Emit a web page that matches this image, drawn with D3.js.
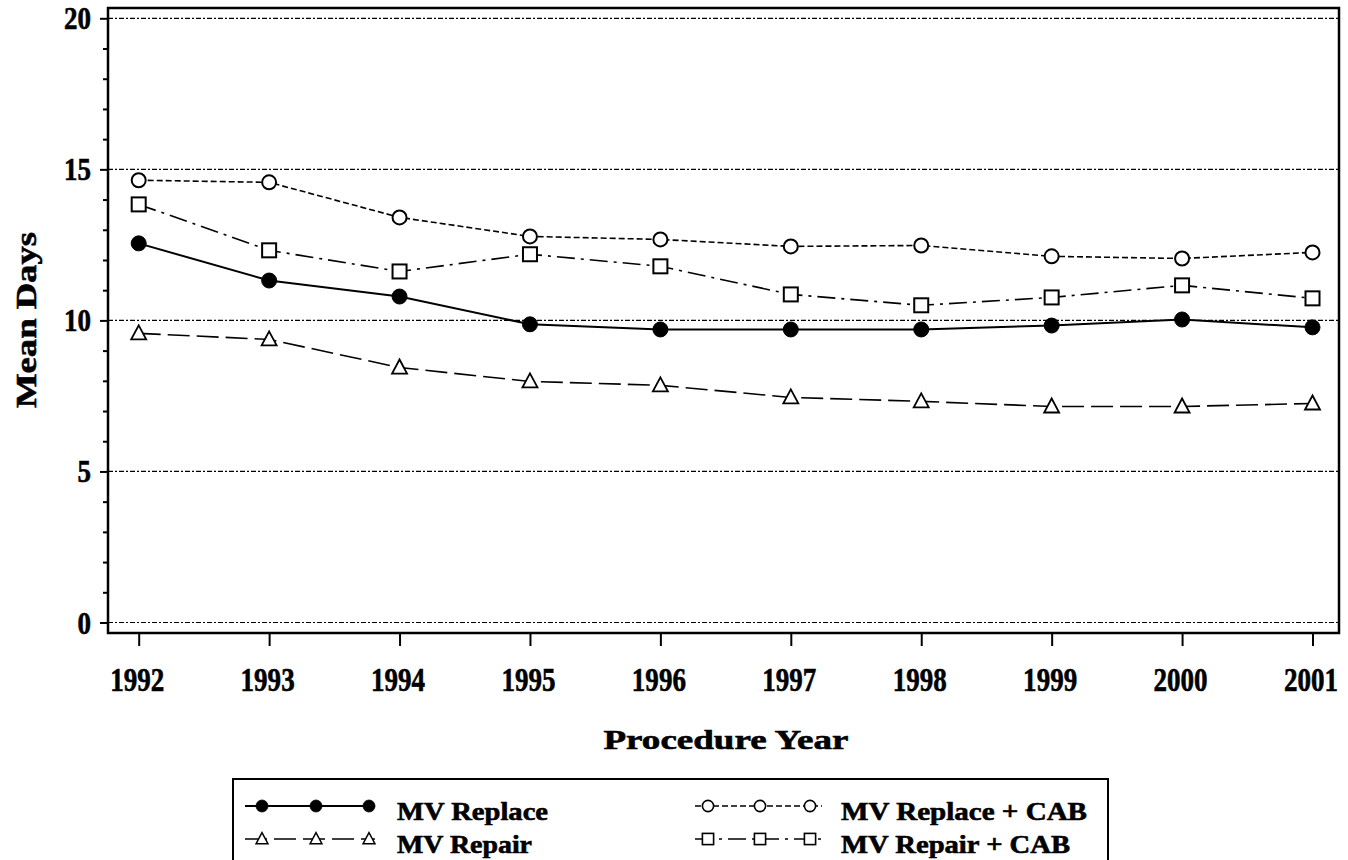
<!DOCTYPE html>
<html>
<head>
<meta charset="utf-8">
<script src="https://cdn.jsdelivr.net/npm/d3@7"></script>
<style>
body { margin: 0; background: #fff; }
text { font-family: "Liberation Serif", "DejaVu Serif", serif; font-weight: bold; fill: #000; stroke: #000; stroke-width: 0.6; }
</style>
</head>
<body>
<script>
var years = [1992, 1993, 1994, 1995, 1996, 1997, 1998, 1999, 2000, 2001];
var mvReplace    = [12.55, 11.32, 10.79, 9.87, 9.70, 9.70, 9.70, 9.83, 10.03, 9.77];
var mvRepair     = [9.57, 9.37, 8.44, 7.98, 7.85, 7.45, 7.32, 7.15, 7.15, 7.25];
var mvReplaceCab = [14.64, 14.57, 13.41, 12.78, 12.68, 12.45, 12.48, 12.12, 12.05, 12.25];
var mvRepairCab  = [13.84, 12.32, 11.62, 12.19, 11.79, 10.86, 10.50, 10.76, 11.16, 10.73];
var yTicks = [0, 5, 10, 15, 20];

function main(){
	var w = 1348, h = 860;
	var svg = d3.select("body").append("svg")
				.attr("width", w)
				.attr("height", h);

	var frame = {left: 108, right: 1339, top: 8, bottom: 633};
	var x = d3.scaleLinear().domain([1992, 2001]).range([138.7, 1312.5]);
	var y = d3.scaleLinear().domain([0, 20]).range([622.5, 18.3]);

	// reference lines
	svg.selectAll("line.grid")
		.data(yTicks)
		.enter()
		.append("line")
		.attr("class", "grid")
		.attr("x1", frame.left).attr("x2", frame.right)
		.attr("y1", function(d){ return y(d); })
		.attr("y2", function(d){ return y(d); })
		.attr("stroke", "#000")
		.attr("stroke-width", 1.2)
		.attr("stroke-dasharray", "5,2,2,2");

	// frame
	svg.append("rect")
		.attr("x", frame.left).attr("y", frame.top)
		.attr("width", frame.right - frame.left)
		.attr("height", frame.bottom - frame.top)
		.attr("fill", "none")
		.attr("stroke", "#000")
		.attr("stroke-width", 2.5);

	// y axis ticks
	var yAxis = d3.axisLeft(y)
		.tickValues(d3.range(0, 21))
		.tickSize(0)
		.tickFormat("");
	var ya = svg.append("g").attr("transform", "translate(" + frame.left + ",0)").call(yAxis);
	ya.select(".domain").remove();
	ya.selectAll(".tick line")
		.attr("x2", function(d){ return d % 5 === 0 ? -8 : -5; })
		.attr("stroke", "#000")
		.attr("stroke-width", 2);

	svg.selectAll("text.ylab")
		.data(yTicks)
		.enter()
		.append("text")
		.attr("class", "ylab")
		.attr("transform", function(d){ return "translate(91," + (y(d) + 11) + ") scale(0.87,1)"; })
		.attr("text-anchor", "end")
		.attr("font-size", 31)
		.text(function(d){ return d; });

	// x axis ticks
	var xAxis = d3.axisBottom(x).tickValues(years).tickSize(13).tickFormat("");
	var xa = svg.append("g").attr("transform", "translate(0," + frame.bottom + ")").call(xAxis);
	xa.select(".domain").remove();
	xa.selectAll(".tick line").attr("stroke", "#000").attr("stroke-width", 2);

	svg.selectAll("text.xlab")
		.data(years)
		.enter()
		.append("text")
		.attr("class", "xlab")
		.attr("transform", function(d){ return "translate(" + (x(d) - 1.5) + ",691) scale(0.82,1)"; })
		.attr("text-anchor", "middle")
		.attr("font-size", 33)
		.text(function(d){ return d; });

	// axis titles
	svg.append("text")
		.attr("x", 726).attr("y", 749)
		.attr("text-anchor", "middle")
		.attr("font-size", 28)
		.attr("textLength", 245)
		.attr("lengthAdjust", "spacingAndGlyphs")
		.text("Procedure Year");

	svg.append("text")
		.attr("transform", "translate(36,320) rotate(-90)")
		.attr("text-anchor", "middle")
		.attr("font-size", 30)
		.attr("textLength", 176)
		.attr("lengthAdjust", "spacingAndGlyphs")
		.text("Mean Days");

	var series = [
		{name: "MV Replace", values: mvReplace, dash: null, width: 2, marker: "dot"},
		{name: "MV Repair", values: mvRepair, dash: "22,7", width: 1.6, marker: "triangle"},
		{name: "MV Replace + CAB", values: mvReplaceCab, dash: "6,3", width: 1.6, marker: "circle"},
		{name: "MV Repair + CAB", values: mvRepairCab, dash: "18,6,3,6", width: 1.6, marker: "square"}
	];

	var line = d3.line()
		.x(function(d, i){ return x(years[i]); })
		.y(function(d){ return y(d); });

	function drawMarker(g, type){
		if(type === "dot"){
			g.append("circle").attr("r", 7.5).attr("fill", "#000").attr("stroke", "#000");
		}else if(type === "circle"){
			g.append("circle").attr("r", 7).attr("fill", "#fff").attr("stroke", "#000").attr("stroke-width", 2);
		}else if(type === "square"){
			g.append("rect").attr("x", -7).attr("y", -7).attr("width", 14).attr("height", 14)
				.attr("fill", "#fff").attr("stroke", "#000").attr("stroke-width", 2);
		}else{
			g.append("path").attr("d", "M0,-8L7.5,6L-7.5,6Z")
				.attr("fill", "#fff").attr("stroke", "#000").attr("stroke-width", 1.8);
		}
	}

	series.forEach(function(s){
		svg.append("path")
			.datum(s.values)
			.attr("d", line)
			.attr("fill", "none")
			.attr("stroke", "#000")
			.attr("stroke-width", s.width)
			.attr("stroke-dasharray", s.dash);
		svg.selectAll(null)
			.data(s.values)
			.enter()
			.append("g")
			.attr("transform", function(d, i){ return "translate(" + x(years[i]) + "," + y(d) + ")"; })
			.each(function(){ drawMarker(d3.select(this), s.marker); });
	});

	// legend
	svg.append("rect")
		.attr("x", 233).attr("y", 779)
		.attr("width", 875).attr("height", 120)
		.attr("fill", "none")
		.attr("stroke", "#000")
		.attr("stroke-width", 2);

	var legendPos = [
		{x0: 245, x1: 375, mk: [262, 316, 369], tx: 397, ty: 806, len: 151},
		{x0: 245, x1: 375, mk: [262, 316, 369], tx: 397, ty: 839, len: 135},
		{x0: 695, x1: 822, mk: [708, 760, 810], tx: 841, ty: 806, len: 246},
		{x0: 695, x1: 822, mk: [708, 760, 810], tx: 841, ty: 839, len: 229}
	];

	series.forEach(function(s, i){
		var p = legendPos[i];
		var lg = svg.append("g");
		lg.append("line")
			.attr("x1", p.x0).attr("x2", p.x1)
			.attr("y1", p.ty).attr("y2", p.ty)
			.attr("stroke", "#000")
			.attr("stroke-width", s.width)
			.attr("stroke-dasharray", s.dash);
		p.mk.forEach(function(mx){
			var m = lg.append("g").attr("transform", "translate(" + mx + "," + p.ty + ") scale(0.8)");
			drawMarker(m, s.marker);
		});
		lg.append("text")
			.attr("x", p.tx).attr("y", p.ty + 14)
			.attr("font-size", 25)
			.attr("textLength", p.len)
			.attr("lengthAdjust", "spacingAndGlyphs")
			.text(s.name);
	});
}

main();
</script>
</body>
</html>
